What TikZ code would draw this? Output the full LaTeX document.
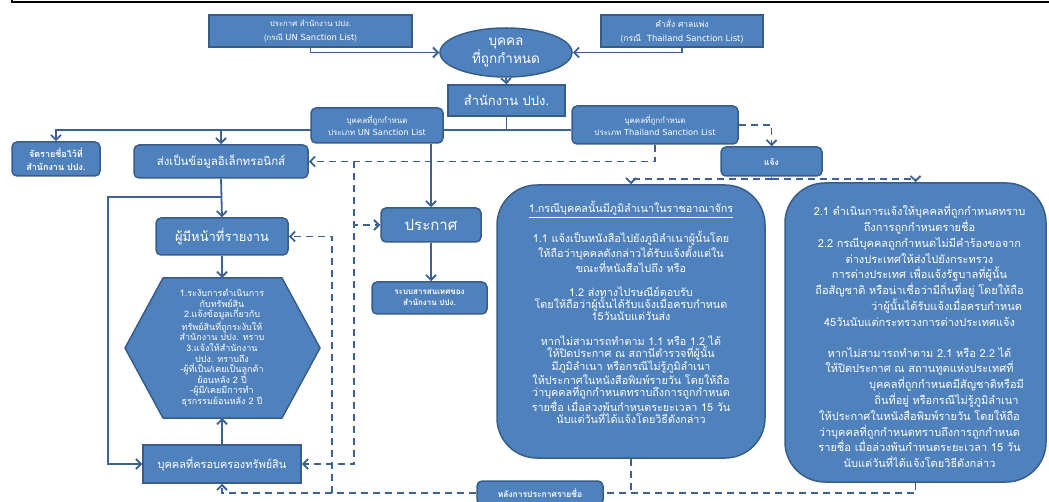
\documentclass[tikz,border=0pt]{standalone}
\usepackage{fontspec}
\newfontfamily\thaifont[Script=Thai]{Loma}
\newfontfamily\latinfont{DejaVu Sans}
\usetikzlibrary{positioning,arrows.meta,shapes.geometric}
\definecolor{boxblue}{HTML}{4F81BD}
\definecolor{boxedge}{HTML}{385D8A}
\definecolor{linkblue}{HTML}{3C6194}
\newcommand{\fsz}[2]{\thaifont\fontsize{#1}{#2}\selectfont}
\newcommand{\en}[2]{{\latinfont\fontsize{#1}{#1}\selectfont #2}}

\begin{document}
\begin{tikzpicture}[x=1pt,y=-1pt,font=\thaifont,
  box/.style={draw=boxedge,fill=boxblue,line width=1.5pt,text=white,align=center,inner sep=1pt},
  rbox/.style={box,rounded corners=5pt},
  bigbox/.style={box,rounded corners=40pt},
  bodytext/.style={text=white,align=center,inner sep=0pt},
  link/.style={draw=linkblue,line width=1.8pt},
  flow/.style={link,-{Straight Barb[length=5pt,width=10pt]}},
  dlink/.style={link,dash pattern=on 7pt off 5pt},
  dflow/.style={flow,dash pattern=on 7pt off 5pt}]
  \useasboundingbox (0,0) rectangle (1049,502);
  \clip (0,0) rectangle (1049,502);
  \draw[line width=2.2pt] (12,-4) -- (12,2) -- (1055,2);

  % top row
  \node[box,minimum width=203pt,minimum height=32pt,font=\fsz{7.8}{13.5}] (unann) at (310.5,31) {ประกาศ สำนักงาน ปปง.\\(กรณี \en{8.4}{UN Sanction List})};
  \node[box,minimum width=162pt,minimum height=32pt,font=\fsz{8.5}{13.5}] (thcourt) at (682,31) {คำสั่ง ศาลแพ่ง\\(กรณี\ \ \en{8.5}{Thailand Sanction List})};
  \node[box,ellipse,minimum width=132pt,minimum height=49pt,font=\fsz{13.5}{16}] (person) at (506,52.5) {บุคคล\\ที่ถูกกำหนด};
  \node[box,minimum width=117pt,minimum height=31pt,font=\fsz{13}{16}] (amlo) at (506.5,100.5) {สำนักงาน ปปง.};

  % list types
  \node[rbox,minimum width=132pt,minimum height=35pt,font=\fsz{8}{12}] (unlist) at (377,125.5) {บุคคลที่ถูกกำหนด\\ประเภท \en{8.3}{UN Sanction List}};
  \node[rbox,minimum width=166pt,minimum height=38pt,font=\fsz{8}{12}] (thlist) at (655,125) {บุคคลที่ถูกกำหนด\\ประเภท \en{8.3}{Thailand Sanction List}};
  \node[rbox,minimum width=88pt,minimum height=34pt,font=\fsz{9}{13}\bfseries] (keep) at (56,159) {จัดรายชื่อไว้ที่\\สำนักงาน ปปง.};
  \node[rbox,minimum width=174pt,minimum height=33pt,font=\fsz{11.5}{15}] (elec) at (221,161.5) {ส่งเป็นข้อมูลอิเล็กทรอนิกส์};
  \node[rbox,minimum width=101pt,minimum height=29pt,font=\fsz{8.5}{10}\bfseries] (notify) at (771.5,161.5) {แจ้ง};
  \node[rbox,minimum width=100pt,minimum height=34pt,font=\fsz{15}{18}] (announce) at (431,225) {ประกาศ};
  \node[rbox,minimum width=115pt,minimum height=32pt,font=\fsz{8}{11}\bfseries] (infosys) at (429.5,298) {ระบบสารสนเทศของ\\สำนักงาน ปปง.};

  % left column
  \node[rbox,minimum width=132pt,minimum height=37pt,font=\fsz{13}{16}] (duty) at (222,236.5) {ผู้มีหน้าที่รายงาน};
  \draw[box] (163,278) -- (282,278) -- (320,348) -- (282,418) -- (163,418) -- (125,348) -- cycle;
  \coordinate (hextop) at (222,278);
  \coordinate (hexbot) at (222,418);
  \node[bodytext,font=\fsz{9}{10.6}] (hextxt) at (222,348) {1.ระงับการดำเนินการ\\กับทรัพย์สิน\\2.แจ้งข้อมูลเกี่ยวกับ\\ทรัพย์สินที่ถูกระงับให้\\สำนักงาน ปปง. ทราบ\\3.แจ้งให้สำนักงาน\\ปปง. ทราบถึง\\-ผู้ที่เป็น/เคยเป็นลูกค้า\\ย้อนหลัง 2 ปี\\-ผู้มี/เคยมีการทำ\\ธุรกรรมย้อนหลัง 2 ปี};
  \node[box,minimum width=158pt,minimum height=38pt,font=\fsz{11}{14}] (owner) at (222,464) {บุคคลที่ครอบครองทรัพย์สิน};
  \node[rbox,minimum width=126pt,minimum height=24pt,font=\fsz{8.5}{10}\bfseries] (after) at (540,493) {หลังการประกาศรายชื่อ};

  % notice cases
  \node[bigbox,minimum width=268pt,minimum height=273pt] (case1) at (631,321.5) {};
  \node[bodytext,below=17pt of case1.north,font=\fsz{10.8}{12.2}] (case1txt) {\underline{1.กรณีบุคคลนั้นมีภูมิลำเนาในราชอาณาจักร}\\[12pt]
    1.1 แจ้งเป็นหนังสือไปยังภูมิลำเนาผู้นั้นโดย\\ให้ถือว่าบุคคลดังกล่าวได้รับแจ้งตั้งแต่ใน\\ขณะที่หนังสือไปถึง หรือ\\[12pt]
    1.2 ส่งทางไปรษณีย์ตอบรับ\\โดยให้ถือว่าผู้นั้นได้รับแจ้งเมื่อครบกำหนด\\15วันนับแต่วันส่ง\\[12pt]
    หากไม่สามารถทำตาม 1.1 หรือ 1.2 ได้\\ให้ปิดประกาศ ณ สถานีตำรวจที่ผู้นั้น\\มีภูมิลำเนา หรือกรณีไม่รู้ภูมิลำเนา\\ให้ประกาศในหนังสือพิมพ์รายวัน โดยให้ถือ\\ว่าบุคคลที่ถูกกำหนดทราบถึงการถูกกำหนด\\รายชื่อ เมื่อล่วงพ้นกำหนดระยะเวลา 15 วัน\\นับแต่วันที่ได้แจ้งโดยวิธีดังกล่าว};
  \node[bigbox,minimum width=261pt,minimum height=299pt] (case2) at (915.5,332.5) {};
  \node[bodytext,below=22pt of case2.north,xshift=4pt,font=\fsz{11}{15.8}] (case2txt) {2.1 ดำเนินการแจ้งให้บุคคลที่ถูกกำหนดทราบ\\ถึงการถูกกำหนดรายชื่อ\\2.2 กรณีบุคคลถูกกำหนดไม่มีคำร้องขอจาก\\ต่างประเทศให้ส่งไปยังกระทรวง\\การต่างประเทศ เพื่อแจ้งรัฐบาลที่ผู้นั้น\\ถือสัญชาติ หรือน่าเชื่อว่ามีถิ่นที่อยู่ โดยให้ถือ\\\hspace*{54pt}ว่าผู้นั้นได้รับแจ้งเมื่อครบกำหนด\\45วันนับแต่กระทรวงการต่างประเทศแจ้ง\\[15pt]
    หากไม่สามารถทำตาม 2.1 หรือ 2.2 ได้\\ให้ปิดประกาศ ณ สถานทูตแห่งประเทศที่\\\hspace*{54pt}บุคคลที่ถูกกำหนดมีสัญชาติหรือมี\\\hspace*{54pt}ถิ่นที่อยู่ หรือกรณีไม่รู้ภูมิลำเนา\\ให้ประกาศในหนังสือพิมพ์รายวัน โดยให้ถือ\\ว่าบุคคลที่ถูกกำหนดทราบถึงการถูกกำหนด\\รายชื่อ เมื่อล่วงพ้นกำหนดระยะเวลา 15 วัน\\นับแต่วันที่ได้แจ้งโดยวิธีดังกล่าว};

  % solid connectors
  \draw[flow] (unann.south) |- (person.west);
  \draw[flow] (thcourt.south) |- (person.east);
  \draw[flow] (person.south) -- (amlo.north);
  \coordinate (fork) at (506.5,130);
  \draw[link] (amlo.south) -- (fork) -- (fork -| unlist.east);
  \draw[link] (fork) -- (fork -| thlist.west);
  \coordinate (unout) at (311,130);
  \draw[flow] (unout) -| (keep.north);
  \draw[flow] (unout) -| (elec.north);
  \draw[flow] (announce.north |- unlist.south) -- (announce.north);
  \draw[flow] (announce.south) -- (announce.south |- infosys.north);
  \draw[flow] (elec.south) -- (duty.north);
  \coordinate (split) at (222,197);
  \coordinate (rail) at (108,197);
  \draw[flow] (split) -- (rail) |- (owner.west);
  \draw[flow] (duty.south) -- (hextop);
  \draw[flow] (owner.north) -- (hexbot);

  % dashed connectors
  \draw[dflow] (thlist.south) |- (elec.east);
  \coordinate (tapA) at (354,161.5);
  \draw[dflow] (tapA) |- (announce.west);
  \draw[dflow] (tapA) |- (owner.east);
  \draw[dflow] (after.west) -| (owner.south);
  \coordinate (tapB) at (332,493);
  \draw[dflow] (tapB) |- (duty.east);
  \draw[dlink] (case1.south) -- (case1.south |- after.east);
  \draw[dlink] (case2.south) |- (after.east);
  \draw[dflow] (thlist.east) -| (notify.north);
  \coordinate (share) at (771.5,179);
  \draw[link] (notify.south) -- (share);
  \draw[dflow] (share) -| (case1.north);
  \draw[dflow] (share) -| (case2.north);
\end{tikzpicture}
\end{document}
